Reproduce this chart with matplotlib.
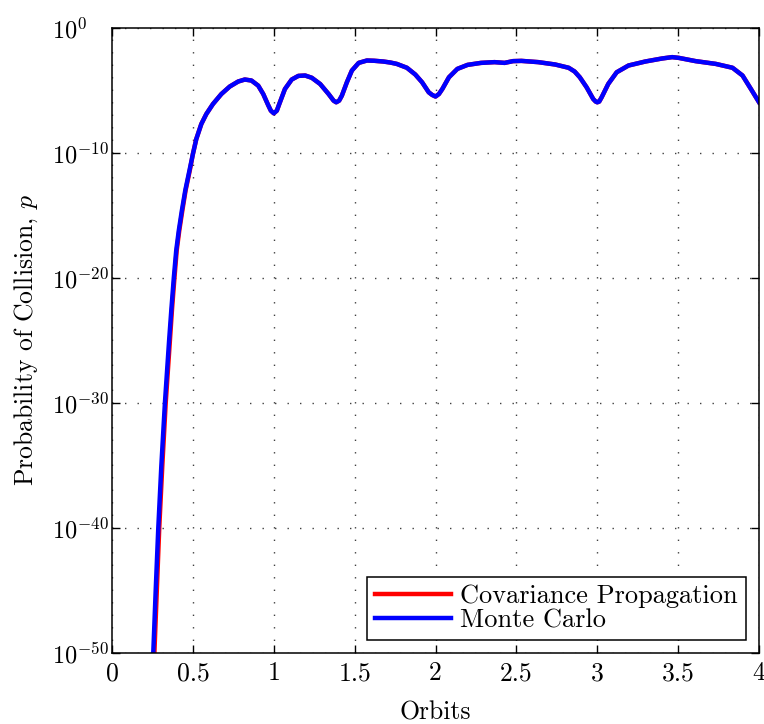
import numpy as np
import matplotlib
matplotlib.use("Agg")
import matplotlib.pyplot as plt

plt.rcParams["font.family"] = "serif"
plt.rcParams["font.serif"] = ["cmr10"]
plt.rcParams["mathtext.fontset"] = "cm"
plt.rcParams["axes.formatter.use_mathtext"] = True
plt.rcParams["axes.unicode_minus"] = False

# curve: orbit, log10(p)
rise_x = [0.25, 0.255, 0.27, 0.286, 0.305, 0.327, 0.353, 0.367, 0.382, 0.397,
          0.413, 0.432, 0.453, 0.479]
rise_logp = [-51.8, -50.0, -45.0, -40.0, -35.0, -30.0, -25.0, -22.5, -20.0, -17.8,
             -16.2, -14.6, -13.0, -11.4]
# covariance curve sits slightly to the right on the steep part
rise_cov_x = [0.257, 0.262, 0.277, 0.292, 0.311, 0.332, 0.358, 0.371, 0.386, 0.400,
              0.416, 0.435, 0.455, 0.481]

top_x = [0.5, 0.521, 0.552, 0.583, 0.624, 0.676, 0.728, 0.78, 0.821, 0.862, 0.904,
         0.935, 0.966, 0.982, 1.0, 1.019, 1.034, 1.069, 1.111, 1.152, 1.194, 1.235,
         1.287, 1.339, 1.37, 1.386, 1.404, 1.421, 1.452, 1.483, 1.525, 1.576, 1.62,
         1.677, 1.72, 1.76, 1.823, 1.875, 1.917, 1.958, 1.979, 2.0, 2.021, 2.042,
         2.083, 2.135, 2.198, 2.281, 2.365, 2.427, 2.479, 2.531, 2.635, 2.74, 2.823,
         2.86, 2.892, 2.934, 2.975, 2.99, 3.0, 3.012, 3.027, 3.068, 3.12, 3.193,
         3.297, 3.40, 3.463, 3.504, 3.608, 3.732, 3.836, 3.898, 3.95, 4.0]
top_logp = [-10.1, -8.9, -7.7, -6.9, -6.1, -5.3, -4.7, -4.3, -4.14, -4.22, -4.63,
            -5.3, -6.2, -6.63, -6.84, -6.63, -6.1, -4.9, -4.14, -3.85, -3.82, -4.0,
            -4.5, -5.3, -5.83, -5.96, -5.83, -5.43, -4.36, -3.42, -2.81, -2.62, -2.64,
            -2.7, -2.78, -2.89, -3.2, -3.74, -4.36, -5.16, -5.37, -5.5, -5.3, -4.9,
            -3.96, -3.29, -2.97, -2.81, -2.75, -2.81, -2.67, -2.65, -2.75, -2.94, -3.2,
            -3.5, -3.96, -4.76, -5.7, -5.9, -5.96, -5.9, -5.56, -4.49, -3.56, -3.02,
            -2.7, -2.46, -2.35, -2.41, -2.67, -2.89, -3.2, -3.82, -4.9, -5.96]

mc_x = np.array(rise_x + top_x)
cov_x = np.array(rise_cov_x + top_x)
p = 10.0 ** np.array(rise_logp + top_logp)

xticks = [0, 0.5, 1, 1.5, 2, 2.5, 3, 3.5, 4]
xtick_labels = ["0", "0.5", "1", "1.5", "2", "2.5", "3", "3.5", "4"]
yexps = [-50, -40, -30, -20, -10, 0]

fig = plt.figure(figsize=(7.64, 7.24), dpi=100)
ax = fig.add_axes([0.1466, 0.0977, 0.8469, 0.8640])

ax.semilogy(cov_x, p, color=(1, 0, 0), lw=3.2, solid_joinstyle="round",
            label="Covariance Propagation")
ax.semilogy(mc_x, p, color=(0, 0, 1), lw=3.2, solid_joinstyle="round",
            label="Monte Carlo")

ax.set_xlim(0, 4)
ax.set_ylim(1e-50, 1e0)
ax.set_xticks(xticks)
ax.set_xticklabels(xtick_labels)
ax.set_yticks([10.0 ** e for e in yexps])
ax.set_yticklabels(["$10^{%d}$" % e for e in yexps])
ax.minorticks_off()
ax.tick_params(direction="in", length=6, width=1, top=True, right=True,
               labelsize=18.5, pad=6)
# matlab puts the y labels flush left
ax.tick_params(axis="y", pad=43, labelsize=17.5)
for lbl in ax.get_yticklabels():
    lbl.set_horizontalalignment("left")
for s in ax.spines.values():
    s.set_linewidth(1.1)

ax.grid(True, color="0.25", linestyle=(0, (1, 8)), linewidth=1)

ax.set_xlabel("Orbits", fontsize=18.5, labelpad=11)
ax.set_ylabel("Probability of Collision, $p$", fontsize=18.5, labelpad=9)

leg = ax.legend(loc="lower right", fontsize=19, fancybox=False, framealpha=1,
                edgecolor="black", handlelength=2.9, borderaxespad=0.5,
                borderpad=0.3, labelspacing=0.0, handletextpad=0.35)
leg.get_frame().set_linewidth(1.1)

fig.savefig("out.png", dpi=100)
